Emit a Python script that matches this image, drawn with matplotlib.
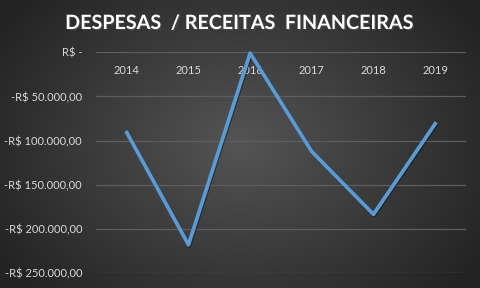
import numpy as np
import matplotlib.pyplot as plt
import matplotlib.patheffects as pe

years = ["2014", "2015", "2016", "2017", "2018", "2019"]
values = [-91000, -218000, -1000, -112600, -183500, -81000]
yticks = [0, -50000, -100000, -150000, -200000, -250000]
ytick_labels = ["R$ -", "-R$ 50.000,00", "-R$ 100.000,00", "-R$ 150.000,00",
                "-R$ 200.000,00", "-R$ 250.000,00"]
title = "DESPESAS  / RECEITAS  FINANCEIRAS"

plt.rcParams['font.family'] = ['Lato', 'DejaVu Sans']

fig = plt.figure(figsize=(4.8, 2.88), dpi=100)

# radial gradient background
bg = fig.add_axes([0, 0, 1, 1], zorder=-10)
gx, gy = np.meshgrid(np.linspace(-1, 1, 480), np.linspace(-1, 1, 288))
r = np.sqrt((gx * 0.95) ** 2 + (gy * 0.75) ** 2)
shade = np.clip(0.33 - 0.17 * r, 0.14, 0.33)
bg.imshow(np.dstack([shade] * 3), aspect="auto", extent=[0, 1, 0, 1])
bg.axis("off")

ax = fig.add_axes([96 / 480, 1 - 273 / 288, 370 / 480, (273 - 52.3) / 288])
ax.set_facecolor("none")
x = np.arange(len(years))
ax.plot(x, values, color="#5B9BD5", lw=2.7, solid_joinstyle="round",
        clip_on=False,
        path_effects=[pe.SimpleLineShadow(offset=(0.6, -0.8), alpha=0.4), pe.Normal()])
ax.set_xlim(-0.5, len(years) - 0.5)
ax.set_ylim(-250000, 0)
ax.set_yticks(yticks)
ax.set_yticklabels(ytick_labels)
ax.set_xticks(x)
ax.set_xticklabels(years)
ax.tick_params(axis="y", length=0, pad=10, labelsize=8, labelcolor="#d9d9d9")
ax.tick_params(axis="x", length=0, top=False, bottom=False, labeltop=True,
               labelbottom=False, pad=-17, labelsize=8, labelcolor="#d9d9d9")
ax.grid(axis="y", color="#5e5e5e", lw=0.9)
ax.set_axisbelow(True)
for s in ax.spines.values():
    s.set_visible(False)

fig.text(0.5, 1 - 23 / 288, title, ha="center", va="center", color="white",
         fontsize=14.2, fontweight="bold",
         path_effects=[pe.withSimplePatchShadow(offset=(1, -1), alpha=0.6)])

fig.savefig("out.png", dpi=100)
